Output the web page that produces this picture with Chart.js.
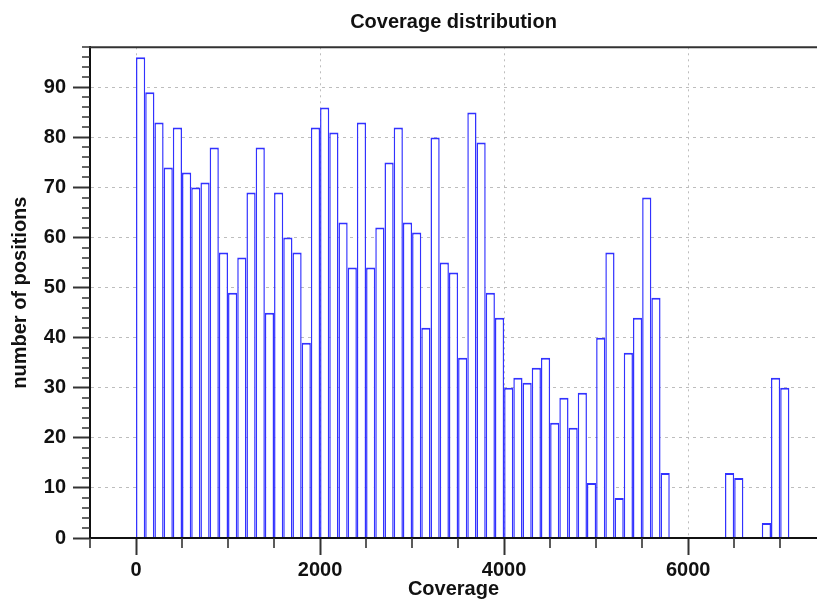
<!DOCTYPE html>
<html>
<head>
<meta charset="utf-8">
<title>Coverage distribution</title>
<script src="https://cdn.jsdelivr.net/npm/chart.js@4.4.0/dist/chart.umd.min.js"></script>
<style>
  html, body { margin: 0; padding: 0; background: #fff; }
  #wrap { width: 817px; height: 599px; }
</style>
</head>
<body>
<div id="wrap"><canvas id="chart"></canvas></div>
<script>
// histogram bins (start of each 100-wide bin) and counts
const binWidth = 100;
const binStarts = [
  0, 100, 200, 300, 400, 500, 600, 700, 800, 900,
  1000, 1100, 1200, 1300, 1400, 1500, 1600, 1700, 1800, 1900,
  2000, 2100, 2200, 2300, 2400, 2500, 2600, 2700, 2800, 2900,
  3000, 3100, 3200, 3300, 3400, 3500, 3600, 3700, 3800, 3900,
  4000, 4100, 4200, 4300, 4400, 4500, 4600, 4700, 4800, 4900,
  5000, 5100, 5200, 5300, 5400, 5500, 5600, 5700,
  6400, 6500, 6800, 6900, 7000
];
const counts = [
  96, 89, 83, 74, 82, 73, 70, 71, 78, 57,
  49, 56, 69, 78, 45, 69, 60, 57, 39, 82,
  86, 81, 63, 54, 83, 54, 62, 75, 82, 63,
  61, 42, 80, 55, 53, 36, 85, 79, 49, 44,
  30, 32, 31, 34, 36, 23, 28, 22, 29, 11,
  40, 57, 8, 37, 44, 68, 48, 13,
  13, 12, 3, 32, 30
];
const xTickValues = [0, 2000, 4000, 6000];
const yTickValues = [0, 10, 20, 30, 40, 50, 60, 70, 80, 90];

const FONT = "'Liberation Sans', Arial, Helvetica, sans-serif";

// top frame line + minor ticks (Chart.js only draws major ticks)
const frameAndMinorTicks = {
  id: 'frameAndMinorTicks',
  afterDraw(chart) {
    const { ctx, chartArea, scales: { x, y } } = chart;
    ctx.save();
    ctx.strokeStyle = '#333';
    ctx.lineWidth = 2;
    ctx.beginPath();
    ctx.moveTo(chartArea.left - 1, chartArea.top);
    ctx.lineTo(chartArea.right, chartArea.top);
    ctx.stroke();

    ctx.lineWidth = 1.6;
    ctx.beginPath();
    for (let v = x.min; v <= x.max; v += 500) {
      if (v % 2000 === 0) continue;
      const px = Math.round(x.getPixelForValue(v));
      ctx.moveTo(px, chartArea.bottom);
      ctx.lineTo(px, chartArea.bottom + 10);
    }
    for (let v = y.min; v <= y.max; v += 2) {
      if (v % 10 === 0) continue;
      const py = Math.round(y.getPixelForValue(v));
      ctx.moveTo(chartArea.left, py);
      ctx.lineTo(chartArea.left - 8, py);
    }
    ctx.stroke();
    ctx.restore();
  }
};

const ctx = document.getElementById('chart').getContext('2d');

new Chart(ctx, {
  type: 'bar',
  data: {
    datasets: [{
      label: 'number of positions',
      data: binStarts.map((s, i) => ({ x: s + binWidth / 2, y: counts[i] })),
      backgroundColor: '#ffffff',
      borderColor: 'rgb(50, 50, 255)',
      borderWidth: { top: 2, left: 1.5, right: 1.5, bottom: 0 },
      borderSkipped: 'start',
      categoryPercentage: 1,
      barPercentage: 1,
      inflateAmount: 0
    }]
  },
  options: {
    responsive: true,
    maintainAspectRatio: false,
    animation: false,
    layout: { padding: 0 },
    plugins: {
      legend: { display: false },
      tooltip: { enabled: false },
      title: {
        display: true,
        fullSize: false,
        text: 'Coverage distribution',
        color: '#111',
        font: { family: FONT, size: 20, weight: 'bold' },
        padding: { top: 10, bottom: 13.3 }
      }
    },
    scales: {
      x: {
        type: 'linear',
        min: -500,
        max: 7400,
        offset: false,
        afterBuildTicks: s => { s.ticks = xTickValues.map(v => ({ value: v })); },
        afterFit: s => { s.height = 61; },
        grid: {
          offset: false,
          color: '#bdbdbd',
          lineWidth: 1,
          tickLength: 17,
          tickWidth: 2,
          tickColor: '#333'
        },
        border: { display: true, color: '#111', width: 2, dash: [2, 4], z: 1 },
        ticks: {
          color: '#111',
          padding: 3,
          maxRotation: 0,
          callback: v => String(v),
          font: { family: FONT, size: 20, weight: 'bold' }
        },
        title: {
          display: true,
          text: 'Coverage',
          color: '#111',
          font: { family: FONT, size: 20, weight: 'bold', lineHeight: 1 },
          padding: { top: 0, bottom: 0 }
        }
      },
      y: {
        type: 'linear',
        min: 0,
        max: 98,
        afterBuildTicks: s => { s.ticks = yTickValues.map(v => ({ value: v })); },
        afterFit: s => { s.width = 90; },
        grid: {
          color: '#bdbdbd',
          lineWidth: 1,
          tickLength: 17,
          tickWidth: 2,
          tickColor: '#333'
        },
        border: { display: true, color: '#111', width: 2, dash: [3, 4], z: 1 },
        ticks: {
          color: '#111',
          padding: 7,
          callback: v => String(v),
          font: { family: FONT, size: 20, weight: 'bold' }
        },
        title: {
          display: true,
          text: 'number of positions',
          color: '#111',
          font: { family: FONT, size: 20, weight: 'bold' },
          padding: { top: 8, bottom: 0 }
        }
      }
    }
  },
  plugins: [frameAndMinorTicks]
});
</script>
</body>
</html>
